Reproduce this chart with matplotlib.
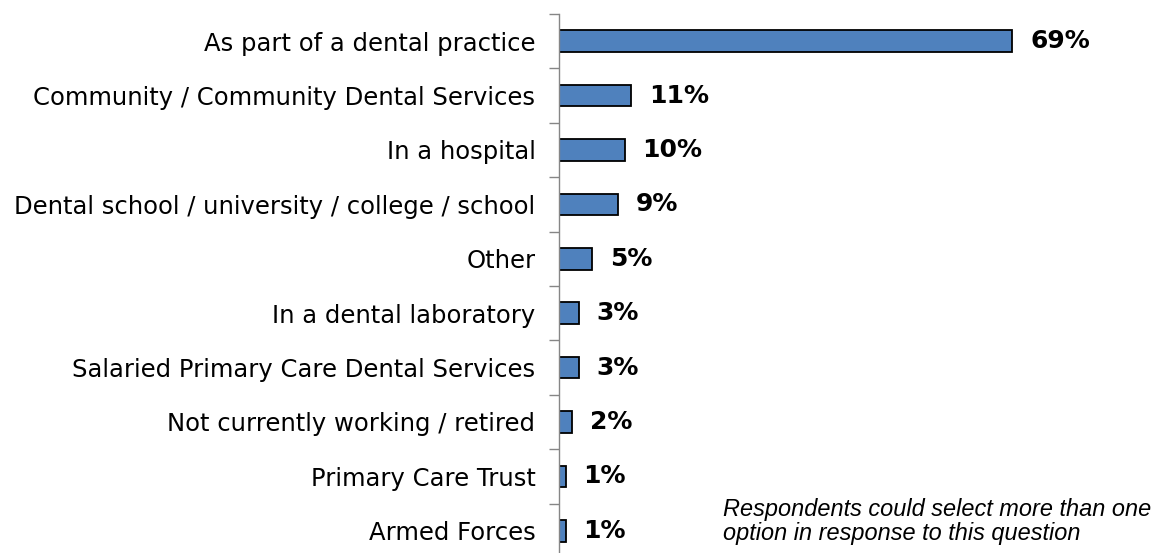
import matplotlib.pyplot as plt
from matplotlib import font_manager
import numpy as np

categories = [
    'As part of a dental practice',
    'Community / Community Dental Services',
    'In a hospital',
    'Dental school / university / college / school',
    'Other',
    'In a dental laboratory',
    'Salaried Primary Care Dental Services',
    'Not currently working / retired',
    'Primary Care Trust',
    'Armed Forces',
]
values = [69, 11, 10, 9, 5, 3, 3, 2, 1, 1]
note = 'Respondents could select more than one\noption in response to this question'

# regular-width Liberation Sans italic, not the Narrow cut
italic_font = font_manager.FontProperties(family='Liberation Sans', style='italic', size=16.9)
for f in font_manager.findSystemFonts():
    if f.endswith('LiberationSans-Italic.ttf'):
        italic_font = font_manager.FontProperties(fname=f, size=16.9)
        break

W, H = 1163, 553
fig = plt.figure(figsize=(W / 100, H / 100), dpi=100)
ax = fig.add_axes([559 / W, -5 / H, 541 / W, 544 / H])

pos = np.arange(len(categories))
ax.barh(pos, values, height=0.4, color='#4F81BD', edgecolor='black', linewidth=1.3)

for p, v in zip(pos, values):
    ax.text(v + 2.7, p, f'{v}%', va='center', ha='left',
            fontsize=18, fontweight='bold', family='DejaVu Sans')

ax.set_xlim(0, 541 / 6.57)
ax.set_ylim(len(categories) - 0.5, -0.5)

# tick marks sit between the bars, labels sit on the bars
ax.set_yticks(np.arange(len(categories) + 1) - 0.5)
ax.set_yticklabels([])
ax.tick_params(axis='y', which='major', length=7, width=1, color='#868686')
ax.set_yticks(pos, minor=True)
ax.set_yticklabels(categories, minor=True, fontsize=17.5, family='DejaVu Sans')
ax.tick_params(axis='y', which='minor', length=0, pad=17)

ax.set_xticks([])
for s in ['top', 'right', 'bottom']:
    ax.spines[s].set_visible(False)
ax.spines['left'].set_color('#868686')
ax.spines['left'].set_linewidth(1)

fig.text(723 / W, 1 - 540 / H, note, fontproperties=italic_font,
         ha='left', va='baseline', linespacing=1.05)

fig.savefig('out.png', dpi=100)
